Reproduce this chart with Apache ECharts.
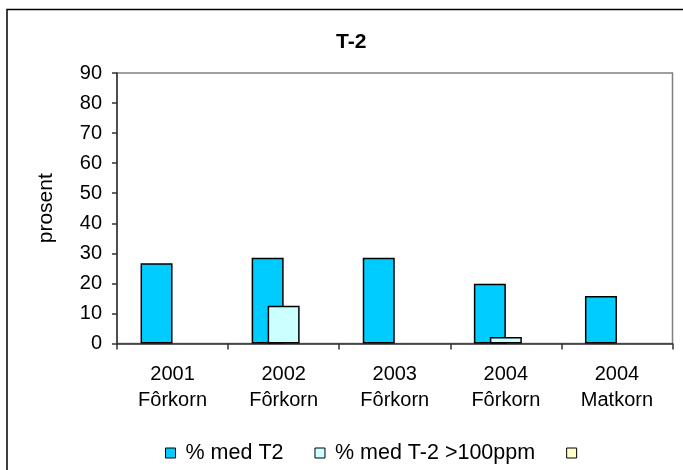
<!DOCTYPE html>
<html>
<head>
<meta charset="utf-8">
<script src="https://cdn.jsdelivr.net/npm/echarts@6/dist/echarts.min.js"></script>
<style>
html,body{margin:0;padding:0;background:#fff;}
#chart{width:683px;height:470px;}
</style>
</head>
<body>
<div id="chart"></div>
<script>
const categories = ['2001\nFôrkorn', '2002\nFôrkorn', '2003\nFôrkorn', '2004\nFôrkorn', '2004\nMatkorn'];
const seriesNames = ['% med T2', '% med T-2 >100ppm', ' '];
const withT2 = [26.7, 28.5, 28.5, 19.9, 15.8];
const over100ppm = [null, 12.6, null, 2.2, null];
const thirdSeries = [null, null, null, null, null];
const yTicks = { min: 0, max: 90, interval: 10 };

const font = 'Arial, "Liberation Sans", sans-serif';
const chart = echarts.init(document.getElementById('chart'));
chart.setOption({
  animation: false,
  backgroundColor: '#fff',
  textStyle: { fontFamily: font },
  title: {
    text: 'T-2',
    left: 331,
    top: 27,
    textStyle: { fontFamily: font, fontSize: 21, fontWeight: 'bold', color: '#000' }
  },
  graphic: [{
    type: 'rect',
    shape: { x: 7, y: 9.5, width: 700, height: 500 },
    style: { fill: 'none', stroke: '#000', lineWidth: 1.5 },
    silent: true
  }],
  legend: {
    data: seriesNames,
    left: 160,
    top: 437,
    icon: 'rect',
    itemWidth: 10,
    itemHeight: 10,
    itemGap: 31,
    textStyle: { fontFamily: font, fontSize: 21.5, color: '#000', padding: [0, 0, 0, 5] },
    itemStyle: { borderColor: '#000', borderWidth: 1 }
  },
  grid: {
    left: 117, top: 73, right: 10.5, bottom: 126.5,
    show: true, borderColor: '#808080', borderWidth: 1.5, backgroundColor: 'transparent'
  },
  xAxis: {
    type: 'category',
    data: categories,
    axisLine: { lineStyle: { color: '#333', width: 1.5 } },
    axisTick: { show: true, alignWithLabel: false, length: 6, lineStyle: { color: '#333', width: 1.5 } },
    axisLabel: { fontFamily: font, fontSize: 20, color: '#000', lineHeight: 26, margin: 18, interval: 0 }
  },
  yAxis: {
    type: 'value',
    min: yTicks.min, max: yTicks.max, interval: yTicks.interval,
    name: 'prosent',
    nameLocation: 'middle',
    nameRotate: 90,
    nameGap: 60,
    nameTextStyle: { fontFamily: font, fontSize: 21, color: '#000' },
    axisLine: { show: true, lineStyle: { color: '#333', width: 1.5 } },
    axisTick: { show: true, length: 5, lineStyle: { color: '#333', width: 1.5 } },
    axisLabel: { fontFamily: font, fontSize: 20, color: '#000', margin: 15 },
    splitLine: { show: false }
  },
  series: [
    { name: seriesNames[0], type: 'bar', data: withT2, barWidth: 32, barGap: '-50%',
      itemStyle: { color: '#00CCFF', borderColor: '#000', borderWidth: 1.5 } },
    { name: seriesNames[1], type: 'bar', data: over100ppm, barWidth: 32, barGap: '-50%',
      itemStyle: { color: '#CCFFFF', borderColor: '#000', borderWidth: 1.5 } },
    { name: seriesNames[2], type: 'bar', data: thirdSeries, barWidth: 32, barGap: '-50%',
      itemStyle: { color: '#FFFFCC', borderColor: '#000', borderWidth: 1.5 } }
  ]
});
</script>
</body>
</html>
